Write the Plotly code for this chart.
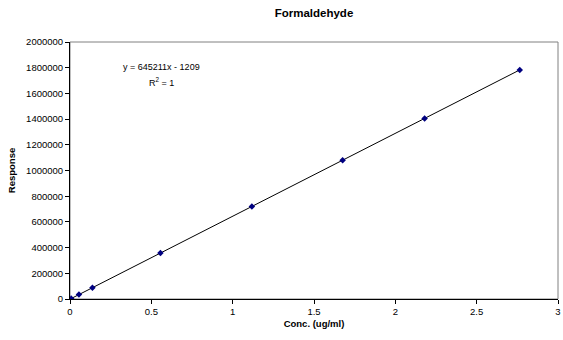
import numpy as np
import plotly.graph_objects as go

conc = [0.007, 0.055, 0.138, 0.556, 1.118, 1.676, 2.18, 2.765]
response = [3500, 34300, 87800, 357500, 720000, 1080000, 1405000, 1783000]
x_ticks = [0, 0.5, 1, 1.5, 2, 2.5, 3]
x_tick_labels = ["0", "0.5", "1", "1.5", "2", "2.5", "3"]
y_ticks = [0, 200000, 400000, 600000, 800000, 1000000, 1200000, 1400000, 1600000, 1800000, 2000000]
y_tick_labels = [str(v) for v in y_ticks]

slope, intercept = np.polyfit(conc, response, 1)
fit_x = [min(conc), max(conc)]
fit_y = [slope * v + intercept for v in fit_x]

font = "Liberation Sans, Arial, sans-serif"

fig = go.Figure()
fig.add_trace(go.Scatter(x=fit_x, y=fit_y, mode="lines",
                         line=dict(color="black", width=1), hoverinfo="skip"))
fig.add_trace(go.Scatter(x=conc, y=response, mode="markers",
                         marker=dict(symbol="diamond", size=5, color="#000080",
                                     line=dict(width=0))))

fig.add_shape(type="rect", xref="paper", yref="paper", x0=0, y0=0, x1=1, y1=1,
              line=dict(color="#808080", width=1), layer="below")

fig.add_annotation(x=0.564, y=1.805e6, xref="x", yref="y",
                   text="y = 645211x - 1209",
                   showarrow=False, font=dict(family=font, size=9, color="black"))
fig.add_annotation(x=0.564, y=1.69e6, xref="x", yref="y",
                   text="R<sup>2</sup> = 1",
                   showarrow=False, font=dict(family=font, size=9, color="black"))

fig.update_layout(
    width=563, height=340,
    margin=dict(l=70, r=2, t=42, b=41),
    paper_bgcolor="white", plot_bgcolor="white",
    showlegend=False,
    font=dict(family=font, size=10, color="black"),
    title=dict(text="<b>Formaldehyde</b>", x=0.5, xref="paper", xanchor="center",
               y=1 - 13 / 340, yanchor="middle",
               font=dict(family=font, size=11.5, color="black")),
)
fig.update_xaxes(range=[0, 3], tickvals=x_ticks, ticktext=x_tick_labels,
                 showgrid=False, zeroline=False, showline=True, linecolor="black",
                 linewidth=1, ticks="outside", ticklen=4, tickcolor="black",
                 ticklabeloverflow="allow",
                 tickfont=dict(family=font, size=9.5),
                 title=dict(text="<b>Conc. (ug/ml)</b>", standoff=3,
                            font=dict(family=font, size=9.5)))
fig.update_yaxes(range=[0, 2000000], tickvals=y_ticks, ticktext=y_tick_labels,
                 showgrid=False, zeroline=False, showline=True, linecolor="black",
                 linewidth=1, ticks="outside", ticklen=4, tickcolor="black",
                 tickfont=dict(family=font, size=9.5),
                 title=dict(text="<b>Response</b>", standoff=8,
                            font=dict(family=font, size=9.5)))

fig.write_html("out.html")
